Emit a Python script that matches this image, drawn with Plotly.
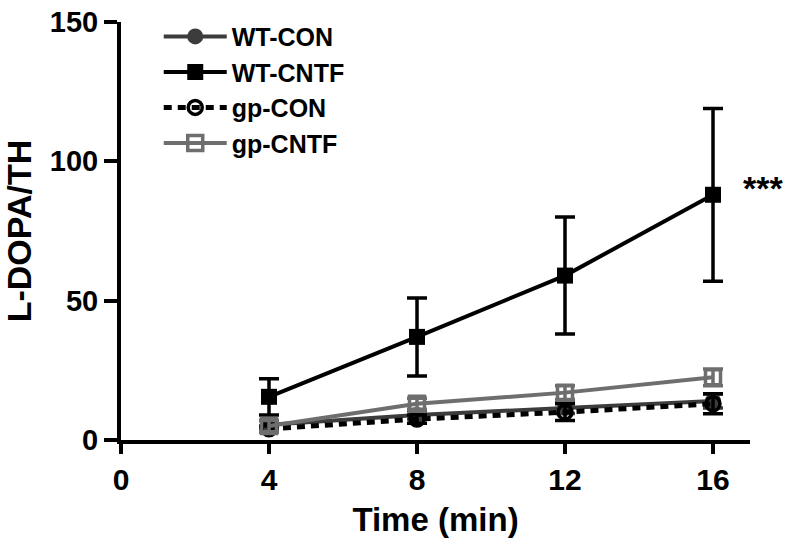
import plotly.graph_objects as go

time_min = [4, 8, 12, 16]

wt_con = [5.5, 9.0, 11.5, 14.0]
wt_con_err = [1.5, 1.5, 2.0, 2.5]

wt_cntf = [15.5, 37.0, 59.0, 88.0]
wt_cntf_err = [6.5, 14.0, 21.0, 31.0]

gp_con = [4.0, 7.5, 10.0, 13.0]
gp_con_err = [1.0, 1.5, 3.0, 3.6]

gp_cntf = [5.0, 13.0, 17.0, 22.5]
gp_cntf_err = [2.0, 2.0, 2.5, 3.0]

x_ticks = [0, 4, 8, 12, 16]
y_ticks = [0, 50, 100, 150]

FONT = "Liberation Sans, Arial, sans-serif"

fig = go.Figure()

def add(name, y, err, color, symbol, size, dash="solid", fillcolor=None, mlw=0, lw=4):
    fig.add_trace(go.Scatter(
        x=time_min, y=y, name=name, mode="lines+markers",
        line=dict(color=color, width=lw, dash=dash),
        marker=dict(symbol=symbol, size=size, color=fillcolor if fillcolor else color,
                    line=dict(color=color, width=mlw)),
        error_y=dict(type="data", array=err, visible=True, color=color,
                     thickness=3.5, width=10),
        cliponaxis=False,
    ))

add("WT-CON", wt_con, wt_con_err, "#3c3c3c", "circle", 16)
add("WT-CNTF", wt_cntf, wt_cntf_err, "#000000", "square", 16)
add("gp-CON", gp_con, gp_con_err, "#000000", "circle-open", 14, dash="8px,6px", mlw=3.5, lw=5)
add("gp-CNTF", gp_cntf, gp_cntf_err, "#6e6e6e", "square-open", 15, mlw=3.5)

fig.add_annotation(xref="paper", yref="y", x=1.021, y=90.5, text="<b>***</b>", showarrow=False,
                   xanchor="center", yanchor="middle", font=dict(size=34, color="black", family=FONT))

fig.update_layout(
    width=795, height=551,
    margin=dict(l=121, r=45, t=22, b=111),
    paper_bgcolor="white", plot_bgcolor="white",
    font=dict(family=FONT, color="black"),
    showlegend=True,
    legend=dict(x=0.06, y=1.02, xanchor="left", yanchor="top",
                font=dict(size=25, family=FONT, color="black", weight="bold"),
                bgcolor="rgba(0,0,0,0)", itemwidth=63, tracegroupgap=0),
    xaxis=dict(range=[0, 17], tickvals=x_ticks, ticktext=[str(v) for v in x_ticks],
               automargin=False,
               showline=True, linecolor="black", linewidth=4,
               ticks="outside", ticklen=10, tickwidth=4, tickcolor="black",
               showgrid=False, zeroline=False,
               tickfont=dict(size=30, family=FONT, weight="bold"),
               title=dict(text="<b>Time (min)</b>", font=dict(size=33, family=FONT), standoff=14)),
    yaxis=dict(range=[0, 150], tickvals=y_ticks, ticktext=[str(v) for v in y_ticks],
               automargin=False,
               showline=True, linecolor="black", linewidth=4,
               ticks="outside", ticklen=13, tickwidth=4, tickcolor="black",
               showgrid=False, zeroline=False,
               tickfont=dict(size=29, family=FONT, weight="bold"),
               title=dict(text="<b>L-DOPA/TH</b>", font=dict(size=34, family=FONT), standoff=12)),
)

fig.write_html("out.html", post_script="document.body.style.margin='0';",
               config={"displayModeBar": False})
